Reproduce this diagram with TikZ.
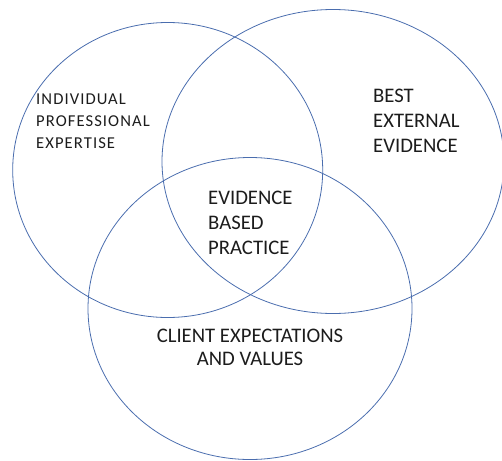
\documentclass[tikz,border=0pt]{standalone}
\usepackage{fontspec}
\setmainfont{Carlito}
\newfontfamily\spacedfont[LetterSpace=6.5]{Carlito}
\usepackage{tikz}
\definecolor{ringblue}{HTML}{4A6DAE}
\definecolor{inkgrey}{HTML}{1C1C1C}

\begin{document}
\begin{tikzpicture}[x=1pt,y=-1pt,ring/.style={draw=ringblue,line width=0.8pt},every node/.style={inner sep=0pt,text=inkgrey,font=\fontsize{20.7}{25}\selectfont}]
	
	\useasboundingbox (0,0) rectangle (502,460);
	
	\draw[ring] (167.7,170) ellipse (155 and 147.5);
	\draw[ring] (333,161.5) ellipse (171 and 152);
	\draw[ring] (250,308.5) ellipse (162 and 151);
	
	\node[anchor=base west,align=left,font=\spacedfont\fontsize{16.6}{22}\selectfont] (expertise) at (36,148.5) {INDIVIDUAL\\PROFESSIONAL\\EXPERTISE};
	\node[anchor=base west,align=left] (external) at (373,152) {BEST\\EXTERNAL\\EVIDENCE};
	\node[anchor=base west,align=left] (ebp) at (208,254) {EVIDENCE\\BASED\\PRACTICE};
	\node[anchor=base,align=center,font=\fontsize{20.7}{23.5}\selectfont] (client) at (250,365.5) {CLIENT EXPECTATIONS\\AND VALUES};
	
\end{tikzpicture}
\end{document}
